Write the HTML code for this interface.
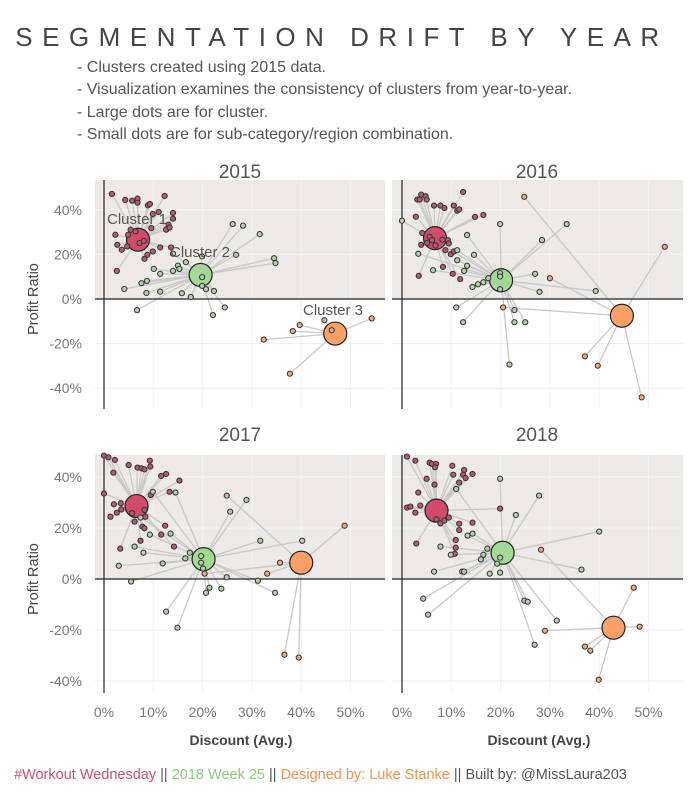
<!DOCTYPE html>
<html><head><meta charset="utf-8"><style>
body{margin:0;background:#fff;width:700px;height:800px;overflow:hidden}
svg text{font-family:"Liberation Sans",sans-serif}
</style></head><body>
<svg id="chart" width="700" height="800" viewBox="0 0 700 800" xmlns="http://www.w3.org/2000/svg">
<text x="342" y="46" text-anchor="middle" font-size="26" fill="#444" letter-spacing="9.5">SEGMENTATION DRIFT BY YEAR</text>
<g font-size="16" fill="#555">
<text x="77" y="72">- Clusters created using 2015 data.</text>
<text x="77" y="94">- Visualization examines the consistency of clusters from year-to-year.</text>
<text x="77" y="117">- Large dots are for cluster.</text>
<text x="77" y="139">- Small dots are for sub-category/region combination.</text>
</g>
<g id="panels"></g>
<text x="14" y="779" font-size="14.5" fill="#555"><tspan fill="#d0506e">#Workout Wednesday</tspan> || <tspan fill="#8dc77d">2018 Week  25</tspan> || <tspan fill="#f0904f">Designed by: Luke Stanke</tspan> || Built by: @MissLaura203</text>
</svg>
<script>
const years = ["2015","2016","2017","2018"];
const xTicks = [0,10,20,30,40,50];
const yTicks = [-40,-20,0,20,40];
// cluster centers per year: [discount %, profit %] for clusters 1,2,3
const centers2015 = [[6.9,26.6],[19.6,10.8],[46.9,-15.5]];
const centers2016 = [[6.7,27.3],[20.1,8.4],[44.6,-7.5]];
const centers2017 = [[6.6,28.6],[20.2,7.8],[40.0,6.4]];
const centers2018 = [[7.0,26.8],[20.4,10.3],[42.9,-19.1]];
// sub-category/region points [discount %, profit %]
const c1_2015 = [[1.6,47.1],[4.3,44.4],[5.7,44.1],[6.8,45],[6.8,43.2],[8.9,42],[9.3,42.6],[12.3,46.2],[9.9,38.1],[11.1,39],[14,38.6],[14,36],[13.1,33.3],[12.6,31.1],[13.3,32.1],[9.6,31.8],[2.3,28.8],[4.9,28.8],[2.7,24.3],[3.6,22.1],[4.7,23.6],[7.2,25.1],[8.1,26.1],[8.8,19.8],[8.2,18],[9.9,21.3],[11.4,23.1],[13.6,23.1],[2.6,12.6],[6.4,30.3],[5.4,31.1]];
const c2_2015 = [[26.1,33.6],[28.2,32.9],[31.6,29.1],[26.8,19.8],[34.5,18.3],[34.8,16.1],[14,20.3],[19.9,19.1],[16.6,16.5],[15,15],[15.3,13.5],[14,12.6],[10.1,13.5],[11.4,11.3],[7.6,7.1],[8.7,8.1],[4.1,4.5],[8.6,2.7],[11.4,3.3],[15.8,2.6],[17.6,0.9],[19.9,9.8],[19.9,5.9],[20.7,4.4],[22.3,3.6],[24.5,-3.8],[22.1,-7.2],[6.7,-5]];
const c3_2015 = [[39.7,-11.7],[38.3,-14.4],[44.7,-9.5],[46.2,-14],[54.3,-8.7],[32.4,-18.2],[37.7,-33.5]];
const c1_2016 = [[3.9,46.8],[4.8,46.1],[3.1,44.6],[3.6,44.6],[5,44.6],[6.5,41.9],[7.8,41.9],[8.6,40.8],[10.5,41.9],[11.2,39.6],[11.6,40.2],[12.4,48],[14.8,36.8],[16.5,37.7],[2.8,36.9],[4.1,29.6],[3.9,24.3],[5.6,27.9],[6.1,26.4],[5.1,25.1],[6.8,24],[8.2,26.6],[9.3,26.4],[9.5,24.9],[8.8,21.9],[9.9,20.1],[10.5,21.3],[8.3,14.4],[10.3,11.3],[11.8,8.9],[3.4,10.4]];
const c2_2016 = [[0,35.1],[19.9,33.6],[33.4,33.6],[28.4,26.4],[13.2,28.7],[14.6,19.8],[3.3,20.3],[11.2,21.9],[11.2,17.4],[13.2,14.9],[12.6,12.6],[6.3,12.9],[14.3,5.4],[15.4,6.6],[16.5,7.5],[17.5,9.3],[19.9,11.6],[19.9,10.1],[19.9,4.4],[27,11.3],[27.9,3.2],[39.3,3.6],[11,-3.8],[12.4,-10.4],[22.8,-5],[22.8,-10.4],[25,-10.4],[21.8,-29.4]];
const c3_2016 = [[24.8,45.8],[30,9.3],[20.5,-3.8],[53.3,23.4],[37.1,-25.7],[39.7,-29.9],[48.6,-44.1]];
const c1_2017 = [[0,48.4],[0.9,47.7],[2.2,46.7],[1.9,41.7],[5,44.7],[6.8,43.7],[7.6,43.4],[8.2,43],[9.3,46.4],[9.4,44.1],[11.6,40.4],[12.6,41.2],[15.3,38.6],[13.3,34.2],[9.5,32.9],[0,33.5],[2,29.3],[3.4,29.7],[3.5,27.3],[2.6,26],[1.3,24.4],[8.2,27.1],[8.4,24.4],[5.7,25.8],[6.2,22.5],[7.8,20.5],[8.2,19.9],[12.4,20.9],[11.6,17.4],[7.4,15],[14.2,12.7],[3.3,11.9]];
const c2_2017 = [[9.9,34.2],[14.5,33.9],[7.4,24.1],[9.3,17.4],[13.5,17.8],[6.2,12.7],[8,10.3],[3,5.2],[11.9,6.1],[17.4,10.3],[16.5,8.1],[19.7,9],[19.7,6.4],[20.1,4.1],[5.5,-1],[25.6,26.4],[28.9,31],[31.7,15],[40.2,15],[24.9,0.7],[31.2,-0.7],[34.7,-5.4],[21.4,-3.4],[20.7,-5.4],[23.8,-3.8],[12.6,-12.8],[14.9,-19.1]];
const c3_2017 = [[24.9,32.7],[48.8,20.9],[35.7,6.4],[33.1,2.1],[20.4,2.1],[36.6,-29.7],[39.5,-30.8]];
const c1_2018 = [[1,48],[2.7,46.4],[5.6,45.6],[6.1,45.1],[6.9,45.1],[6.7,43.8],[10.2,44.4],[10.4,40.9],[12.6,42.7],[12.4,40.9],[12.9,39.6],[14.3,41.2],[5,39.3],[6.6,37],[11.6,37.8],[3.3,33.9],[3.7,28.8],[1,28],[1.7,28.4],[2.7,26],[7,23.4],[7.8,21.8],[8.6,22.9],[9.5,24.1],[11.6,21.7],[11.6,19.2],[14.3,22.1],[10.9,15.3],[10.9,12.3],[10.7,9.9],[2.9,13.9],[19.9,27.6]];
const c2_2018 = [[19.9,39.3],[27.8,32.7],[23.1,25.1],[11,35.3],[40,18.6],[36.4,3.7],[14.3,17.8],[13.3,17],[7.8,12.7],[17.3,11.9],[16.5,9.5],[16,7.7],[9.9,9.5],[6.5,2.9],[12.2,2.9],[12.6,2.9],[17.8,2.1],[19.9,2.5],[19.3,6],[19.9,8.4],[4.3,-7.7],[5.3,-14],[24.8,-8.5],[25.5,-8.9],[31.4,-16.3],[26.9,-25.8]];
const c3_2018 = [[47,-3.4],[48.2,-18.7],[29,-20.3],[28.2,11.5],[37.1,-26.5],[38.2,-28.1],[39.9,-39.5]];

const centersByYear = [centers2015,centers2016,centers2017,centers2018];
const pointsByYear = [[c1_2015,c2_2015,c3_2015],[c1_2016,c2_2016,c3_2016],[c1_2017,c2_2017,c3_2017],[c1_2018,c2_2018,c3_2018]];

const NS="http://www.w3.org/2000/svg";
const root=document.getElementById('panels');
const bigFill=["#d24b6d","#a3d896","#fba066"];
const smallFill=["#b25a72","#b2d0a6","#e8a985"];
const layout=[
 {x0:104,left:95,right:385,y0:299,top:180,bottom:409,ys:2.23,title:240,tY:178,xlab:false},
 {x0:402,left:392,right:683,y0:299,top:180,bottom:409,ys:2.23,title:537,tY:178,xlab:false},
 {x0:104,left:95,right:385,y0:579,top:455,bottom:693,ys:2.55,title:240,tY:441,xlab:true},
 {x0:402,left:392,right:683,y0:579,top:455,bottom:693,ys:2.55,title:537,tY:441,xlab:true}];
function mk(tag,attrs,parent){const e=document.createElementNS(NS,tag);for(const k in attrs)e.setAttribute(k,attrs[k]);parent.appendChild(e);return e;}

layout.forEach((L,i)=>{
 const xs=d=>L.x0+d*4.93;
 const ys=p=>L.y0-p*L.ys;
 const g=mk('g',{},root);
 
 
 const bg=mk('rect',{x:L.left,y:L.top,width:L.right-L.left,height:L.y0-L.top,fill:"#ece9e6"},g);
 
 
 xTicks.forEach(t=>{if(t===0)return;
  const l=mk('line',{x1:xs(t),x2:xs(t),y1:L.top,y2:L.bottom,stroke:"#f2f2f2","stroke-width":1},g);
  
  });
 yTicks.forEach(t=>{if(t===0)return;
  const l=mk('line',{x1:L.left,x2:L.right,y1:ys(t),y2:ys(t),stroke:t>0?"#f6f5f3":"#eeeeee","stroke-width":1},g);
  
  });
 const t=mk('text',{x:L.title,y:L.tY,"text-anchor":"middle","font-size":19,fill:"#555"},g);
 
 
 t.textContent=years[i];
 const cs=centersByYear[i];
 // connector lines
 pointsByYear[i].forEach((pts,c)=>pts.forEach(p=>{
  const l=mk('line',{x1:xs(p[0]),y1:ys(p[1]),x2:xs(cs[c][0]),y2:ys(cs[c][1]),stroke:"#c9c9c9","stroke-width":1.3},g);
  
  }));
 // axes
 const ax=mk('line',{x1:L.x0,x2:L.x0,y1:L.top,y2:L.bottom,stroke:"#222","stroke-width":1.2},g);
 
 
 const zx=mk('line',{x1:L.left,x2:L.right,y1:ys(0),y2:ys(0),stroke:"#222","stroke-width":1.2},g);
 
 
 // centers
 cs.forEach((c,k)=>{
  const b=mk('circle',{cx:xs(c[0]),cy:ys(c[1]),r:11.5,fill:bigFill[k],stroke:"#222","stroke-width":1.2},g);
  
  });
 // small points
 pointsByYear[i].forEach((pts,c)=>pts.forEach(p=>{
  const d=mk('circle',{cx:xs(p[0]),cy:ys(p[1]),r:2.6,fill:smallFill[c],stroke:"#333","stroke-width":1},g);
  
  }));
 // y ticks (left column)
 if(L.left===95){
  yTicks.forEach(v=>{const tx=mk('text',{x:82,y:ys(v)+5,"text-anchor":"end","font-size":14,fill:"#777"},g);
   
   
   tx.textContent=v+"%";});
  const yt=mk('text',{x:0,y:0,"text-anchor":"middle","font-size":14.5,fill:"#444",transform:"translate(38,"+ys(0)+") rotate(-90)"},g);
  
  
  yt.textContent="Profit Ratio";
 }
 if(L.xlab){
  xTicks.forEach(v=>{const tx=mk('text',{x:xs(v),y:717,"text-anchor":"middle","font-size":14,fill:"#777"},g);
   
   
   tx.textContent=v+"%";});
  const xt=mk('text',{x:L.x0+137,y:745,"text-anchor":"middle","font-size":14,"font-weight":"bold",fill:"#444"},g);
  
  
  xt.textContent="Discount (Avg.)";
 }
 if(i===0){
  [["Cluster 1",107,224],["Cluster 2",170,257],["Cluster 3",303,315]].forEach(a=>{
   const cl=mk('text',{x:a[1],y:a[2],"font-size":15,fill:"#555"},g);
   
   
   cl.textContent=a[0];});
 }
});
</script>
</body></html>
